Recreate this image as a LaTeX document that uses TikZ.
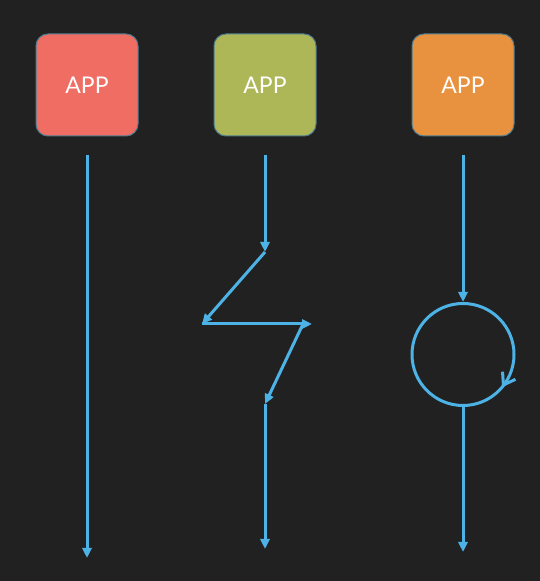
\documentclass[tikz,border=0pt]{standalone}
\usepackage{fontspec}
\setmainfont{Lato}
\usetikzlibrary{arrows.meta,positioning}
\definecolor{board}{RGB}{33,33,33}
\definecolor{flow}{RGB}{77,179,230}
\definecolor{appedge}{RGB}{78,124,145}
\definecolor{appred}{RGB}{240,109,99}
\definecolor{appgreen}{RGB}{174,183,88}
\definecolor{apporange}{RGB}{232,145,62}

\begin{document}
\begin{tikzpicture}[x=1pt,y=1pt]
  \tikzset{AppStyle/.style={draw=appedge, line width=1pt, rounded corners=12pt,
      minimum size=102pt, inner sep=0pt, outer sep=0pt, text=white,
      font=\fontsize{23}{23}\selectfont}}
  \tikzset{FlowStyle/.style={draw=flow, line width=3pt,
      -{Triangle[length=10pt,width=9pt]}}}
  \tikzset{RingStyle/.style={circle, draw=flow, line width=3pt,
      minimum size=102pt, inner sep=0pt}}
  \fill[board] (0,0) rectangle (540,581);
  \useasboundingbox (0,0) rectangle (540,581);
  \node[AppStyle, fill=appred] (A) at (87,496) {APP};
  \node[AppStyle, fill=appgreen, right=76pt of A] (B) {APP};
  \node[AppStyle, fill=apporange, right=96pt of B] (C) {APP};
  \node[RingStyle, below=166pt of C] (R) {};
  \coordinate (Aend) at (A.center |- 0,23);
  \coordinate (Z1) at (B.center |- 0,329);
  \coordinate (Z2) at (202,257);
  \coordinate (Z3) at (312,257);
  \coordinate (Z3b) at (303,257);
  \coordinate (Z4) at (B.center |- 0,177);
  \coordinate (Bend) at (B.center |- 0,32);
  \coordinate (Cend) at (R.center |- 0,29);
  \coordinate (Rtip) at ([shift={(-40:51)}]R.center);
  \draw[FlowStyle, shorten <=19pt] (A) -- (Aend);
  \draw[FlowStyle, shorten <=19pt] (B) -- (Z1);
  \draw[FlowStyle] (Z1) -- (Z2);
  \draw[FlowStyle] (Z2) -- (Z3);
  \draw[FlowStyle] (Z3b) -- (Z4);
  \draw[FlowStyle] (Z4) -- (Bend);
  \draw[FlowStyle, shorten <=19pt] (C) -- (R);
  \draw[FlowStyle] (R) -- (Cend);
  \draw[flow, line width=3pt, -{Straight Barb[length=11pt,width=15pt]}]
    ([shift={(1.0,1.7)}]Rtip) -- (Rtip);
\end{tikzpicture}
\end{document}
